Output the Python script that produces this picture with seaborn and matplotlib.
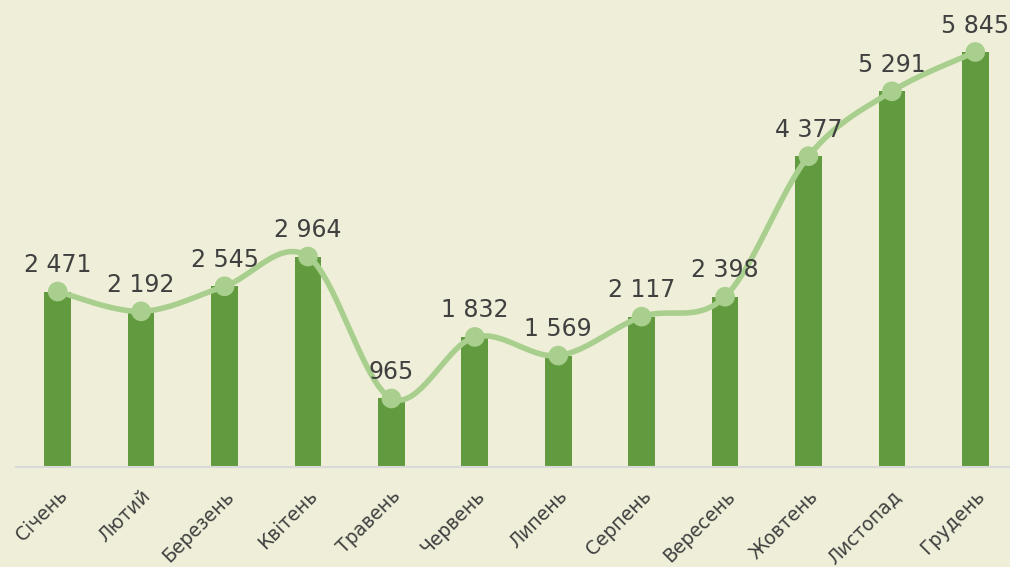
import numpy as np
import pandas as pd
import matplotlib
matplotlib.use("Agg")
import matplotlib.pyplot as plt
import seaborn as sns

# дані з графіка
months = ["Січень", "Лютий", "Березень", "Квітень", "Травень", "Червень",
          "Липень", "Серпень", "Вересень", "Жовтень", "Листопад", "Грудень"]
values = [2471, 2192, 2545, 2964, 965, 1832, 1569, 2117, 2398, 4377, 5291, 5845]

BG = "#EFEED8"
BAR = "#629B3F"
LINE = "#A9CF8E"
TXT = "#404040"


def smooth_curve(xs, ys, n=40):
    # згладжування як у Excel (Catmull-Rom)
    pts = np.column_stack([xs, ys]).astype(float)
    p = np.vstack([pts[0], pts, pts[-1]])
    out = []
    t = np.linspace(0, 1, n)
    for i in range(1, len(p) - 2):
        p0, p1, p2, p3 = p[i - 1], p[i], p[i + 1], p[i + 2]
        c1 = p1 + (p2 - p0) / 6
        c2 = p2 - (p3 - p1) / 6
        seg = ((1 - t) ** 3)[:, None] * p1 + (3 * (1 - t) ** 2 * t)[:, None] * c1 \
            + (3 * (1 - t) * t ** 2)[:, None] * c2 + (t ** 3)[:, None] * p2
        out.append(seg)
    return np.vstack(out)


df = pd.DataFrame({"month": months, "value": values})

sns.set_style("white")
plt.rcParams["font.family"] = ["DejaVu Sans"]

fig = plt.figure(figsize=(10.1, 5.67), dpi=100, facecolor=BG)
ax = fig.add_axes([16 / 1010, 100 / 567, 1001 / 1010, 467 / 567])
ax.set_facecolor(BG)

sns.barplot(data=df, x="month", y="value", color=BAR, width=0.32,
            saturation=1, edgecolor="none", linewidth=0, ax=ax, zorder=2)

xs = np.arange(len(values))
curve = smooth_curve(xs, values)
ax.plot(curve[:, 0], curve[:, 1], color=LINE, lw=4, solid_capstyle="round", zorder=3)
sns.scatterplot(x=xs, y=values, color=LINE, s=200, edgecolor="none", ax=ax, zorder=4)

for x, v in zip(xs, values):
    lbl = f"{v:,}".replace(",", " ")
    ax.annotate(lbl, (x, v), xytext=(0, 14), textcoords="offset points",
                ha="center", va="baseline", fontsize=17, color=TXT, zorder=5)

ax.set_xlim(-0.5, len(values) - 0.5)
ax.set_ylim(0, 6577)
ax.set_yticks([])
ax.set_xlabel("")
ax.set_ylabel("")
for s in ["top", "right", "left"]:
    ax.spines[s].set_visible(False)
ax.spines["bottom"].set_color("#D9D9D9")
ax.spines["bottom"].set_linewidth(1.5)
ax.tick_params(axis="x", length=0, pad=14)
ax.set_xticks(xs)
ax.set_xticklabels(months, rotation=45, ha="right", rotation_mode="anchor",
                   fontsize=13.5, color=TXT)

fig.savefig("out.png", dpi=100, facecolor=BG)
